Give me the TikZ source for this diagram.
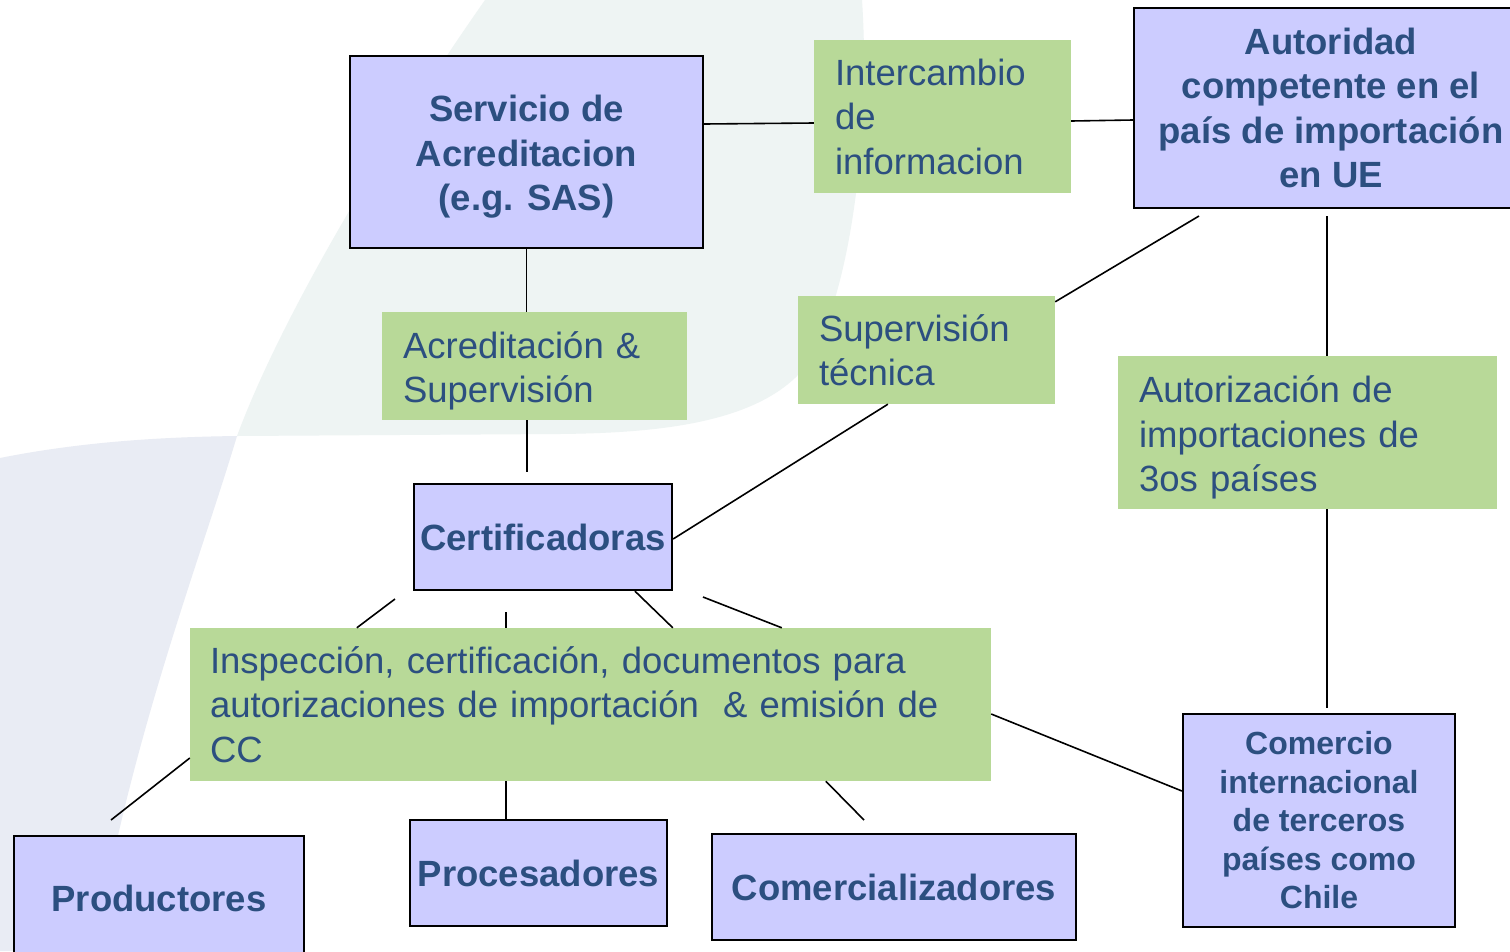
\documentclass[tikz,border=0pt]{standalone}
\usepackage{fontspec}
\setmainfont{Liberation Sans}
\usetikzlibrary{calc}
\definecolor{boxpurple}{RGB}{204,204,255}
\definecolor{boxgreen}{RGB}{184,217,152}
\definecolor{txtblue}{RGB}{44,79,128}
\definecolor{bggreen}{RGB}{238,244,243}
\definecolor{bgblue}{RGB}{233,236,244}
\tikzset{
  purplebox/.style={draw=black, line width=2.2pt, fill=boxpurple, text=txtblue,
    font=\bfseries\fontsize{36.5}{44.5}\selectfont, align=center, inner sep=0pt},
  greenbox/.style={fill=boxgreen, text=txtblue, font=\fontsize{36.5}{44.5}\selectfont,
    align=left, inner xsep=21pt, inner ysep=0pt},
  link/.style={draw=black, line width=1.6pt}
}
\begin{document}
\begin{tikzpicture}[x=1pt,y=-1pt]
\clip (0,0) rectangle (1510,951);
\fill[white] (0,0) rectangle (1510,951);
% background swooshes
\fill[bggreen] (485,0) -- (862,0) .. controls (872,150) and (845,330) .. (795,378)
  .. controls (745,425) and (650,433) .. (560,434) -- (237,436)
  .. controls (280,320) and (380,150) .. (485,0) -- cycle;
\fill[bgblue] (0,458) .. controls (80,442) and (160,437) .. (237,436)
  .. controls (200,560) and (130,740) .. (95,951) -- (0,951) -- cycle;

% purple boxes
\node[purplebox, minimum width=353pt, minimum height=192pt] (sas) at (526.5,152) {\rule{0pt}{36pt}Servicio de\\Acreditacion\\(e.g. SAS)};
\node[purplebox, minimum width=394pt, minimum height=200pt] (auth) at (1331,108) {Autoridad\\competente en el\\país de importación\\en UE};
\node[purplebox, minimum width=258pt, minimum height=106pt] (cert) at (543,537) {Certificadoras};
\node[purplebox, minimum width=290pt, minimum height=124pt] (prod) at (159,898) {Productores};
\node[purplebox, minimum width=257pt, minimum height=106pt] (proc) at (538.5,873) {Procesadores};
\node[purplebox, minimum width=364pt, minimum height=106pt] (comz) at (894,887) {Comercializadores};
\node[purplebox, minimum width=272pt, minimum height=213pt,
  font=\bfseries\fontsize{32}{38.5}\selectfont] (comi) at (1319,820.5) {Comercio\\internacional\\de terceros\\países como\\Chile};

% green boxes
\node[greenbox, minimum width=257pt, minimum height=153pt, text width=215pt] (inter) at (942.5,116.5) {Intercambio\\de\\informacion};
\node[greenbox, minimum width=305pt, minimum height=108pt, text width=263pt] (acr) at (534.5,366) {\rule{0pt}{36.5pt}Acreditación \&\\Supervisión};
\node[greenbox, minimum width=257pt, minimum height=108pt, text width=215pt] (sup) at (926.5,350) {Supervisión\\técnica};
\node[greenbox, minimum width=379pt, minimum height=153pt, text width=337pt] (aut) at (1307.5,432.5) {\rule{0pt}{37.5pt}Autorización de\\importaciones de\\3os países};
\node[greenbox, minimum width=801pt, minimum height=153pt, text width=761pt, inner xsep=20pt] (insp) at (590.5,704.5) {Inspección, certificación, documentos para\\autorizaciones de importación~ \& emisión de\\CC};

% free ends
\coordinate (f1) at (527,472);
\coordinate (f2) at (1199,216);
\coordinate (f3) at (1327,216);
\coordinate (f4) at (1327,708);
\coordinate (f5) at (395,599);
\coordinate (f6) at (506,612);
\coordinate (f7) at (703,597);
\coordinate (f8) at (111,820);
\coordinate (f9) at (864,820);

% connectors
\draw[link] ([yshift=28pt]sas.east) -- ([yshift=-6.5pt]inter.west);
\draw[link] ([yshift=-4.5pt]inter.east) -- ([yshift=-12pt]auth.west);
\draw[link] (sas.south) -- (sas.south |- acr.north);
\draw[link] (f1 |- acr.south) -- (f1);
\draw[link] ([yshift=-2pt]cert.east) -- ($(sup.south west)!0.35!(sup.south east)$);
\draw[link] ([yshift=-6pt]sup.north east) -- (f2);
\draw[link] (f3) -- (f3 |- aut.north);
\draw[link] (f4 |- aut.south) -- (f4);
\draw[link] (f5) -- ([xshift=167pt]insp.north west);
\draw[link] (f6) -- (f6 |- insp.north);
\draw[link] ([xshift=222pt]cert.south west) -- ([xshift=483pt]insp.north west);
\draw[link] (f7) -- ([xshift=592pt]insp.north west);
\draw[link] ([yshift=-53.5pt]insp.west) -- (f8);
\draw[link] (f6 |- insp.south) -- (f6 |- proc.north);
\draw[link] ([xshift=636pt]insp.south west) -- (f9);
\draw[link] ([yshift=-9.5pt]insp.east) -- ([yshift=29.5pt]comi.west);
\end{tikzpicture}
\end{document}
